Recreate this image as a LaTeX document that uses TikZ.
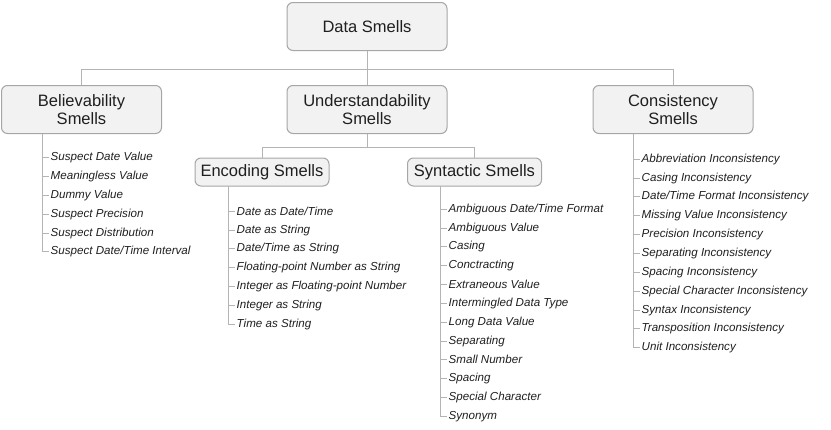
\documentclass[tikz,border=0pt]{standalone}
\usepackage{fontspec}
\setmainfont{Liberation Sans}
\usepackage{xcolor}
\usepackage{tikz}
\usetikzlibrary{positioning, calc}

\definecolor{boxline}{HTML}{A6A6A6}
\definecolor{boxfill}{HTML}{F2F2F2}
\definecolor{treeline}{HTML}{B4B4B4}
\definecolor{inktext}{HTML}{1F1F1F}

\begin{document}
\begin{tikzpicture}[
  x=1pt, y=-1pt,
  bigbox/.style={rectangle, rounded corners=6pt, draw=boxline, fill=boxfill,
              line width=1pt, minimum width=160pt, minimum height=48pt,
              font=\fontsize{16.5}{18}\selectfont, text=inktext, align=center, inner sep=0pt},
  subbox/.style={bigbox, minimum width=134pt, minimum height=28pt},
  item/.style={anchor=west, inner sep=1.5pt, text=inktext, yshift=-1.2pt,
               font=\fontsize{11.6}{13}\selectfont\itshape},
  tree/.style={line width=1pt, draw=treeline}
]
\useasboundingbox (0,0) rectangle (831,429);

% ── Root and first level ──
\node[bigbox] (data) at (367, 26.5) {Data Smells};
\node[bigbox] (bel) at (81.5, 109.5) {Believability\\Smells};
\node[bigbox] (und) at (367, 109.5) {Understandability\\Smells};
\node[bigbox] (con) at (673, 109.5) {Consistency\\Smells};
\coordinate (bus) at (367, 69);

\draw[tree] (data.south) -- (und.north);
\draw[tree] (bel.north) -- (bel.north |- bus) -- (con.north |- bus) -- (con.north);

% ── Second level under Understandability ──
\node[subbox] (enc) at (262, 172) {Encoding Smells};
\node[subbox] (syn) at (474.5, 172) {Syntactic Smells};
\coordinate (mid) at (367, 147);

\draw[tree] (und.south) -- (mid);
\draw[tree] (enc.north) -- (enc.north |- mid) -- (syn.north |- mid) -- (syn.north);

% ── Believability items ──
\coordinate (belstem) at (42, 133.5);
\node[item] (b1) at (49, 156) {Suspect Date Value};
\node[item] (b2) at (49, 175) {Meaningless Value};
\node[item] (b3) at (49, 194) {Dummy Value};
\node[item] (b4) at (49, 213) {Suspect Precision};
\node[item] (b5) at (49, 232) {Suspect Distribution};
\node[item] (b6) at (49, 250.5) {Suspect Date/Time Interval};
\foreach \n in {b1,b2,b3,b4,b5,b6}
  \draw[tree] (belstem) |- (\n.west);

% ── Encoding items ──
\coordinate (encstem) at (228, 186);
\node[item] (e1) at (235, 210) {Date as Date/Time};
\node[item] (e2) at (235, 229) {Date as String};
\node[item] (e3) at (235, 247.5) {Date/Time as String};
\node[item] (e4) at (235, 266.5) {Floating-point Number as String};
\node[item] (e5) at (235, 285) {Integer as Floating-point Number};
\node[item] (e6) at (235, 304) {Integer as String};
\node[item] (e7) at (235, 323) {Time as String};
\foreach \n in {e1,e2,e3,e4,e5,e6,e7}
  \draw[tree] (encstem) |- (\n.west);

% ── Syntactic items ──
\coordinate (synstem) at (440, 186);
\node[item] (s1) at (447, 208) {Ambiguous Date/Time Format};
\node[item] (s2) at (447, 227) {Ambiguous Value};
\node[item] (s3) at (447, 245.5) {Casing};
\node[item] (s4) at (447, 264.5) {Conctracting};
\node[item] (s5) at (447, 283) {Extraneous Value};
\node[item] (s6) at (447, 302) {Intermingled Data Type};
\node[item] (s7) at (447, 321) {Long Data Value};
\node[item] (s8) at (447, 340) {Separating};
\node[item] (s9) at (447, 358.5) {Small Number};
\node[item] (s10) at (447, 377.5) {Spacing};
\node[item] (s11) at (447, 396.5) {Special Character};
\node[item] (s12) at (447, 415.5) {Synonym};
\foreach \n in {s1,s2,s3,s4,s5,s6,s7,s8,s9,s10,s11,s12}
  \draw[tree] (synstem) |- (\n.west);

% ── Consistency items ──
\coordinate (constem) at (633, 133.5);
\node[item] (c1) at (640, 158) {Abbreviation Inconsistency};
\node[item] (c2) at (640, 177) {Casing Inconsistency};
\node[item] (c3) at (640, 195.5) {Date/Time Format Inconsistency};
\node[item] (c4) at (640, 214.5) {Missing Value Inconsistency};
\node[item] (c5) at (640, 233.5) {Precision Inconsistency};
\node[item] (c6) at (640, 252) {Separating Inconsistency};
\node[item] (c7) at (640, 271) {Spacing Inconsistency};
\node[item] (c8) at (640, 290) {Special Character Inconsistency};
\node[item] (c9) at (640, 309) {Syntax Inconsistency};
\node[item] (c10) at (640, 327.5) {Transposition Inconsistency};
\node[item] (c11) at (640, 346.5) {Unit Inconsistency};
\foreach \n in {c1,c2,c3,c4,c5,c6,c7,c8,c9,c10,c11}
  \draw[tree] (constem) |- (\n.west);

\end{tikzpicture}
\end{document}
